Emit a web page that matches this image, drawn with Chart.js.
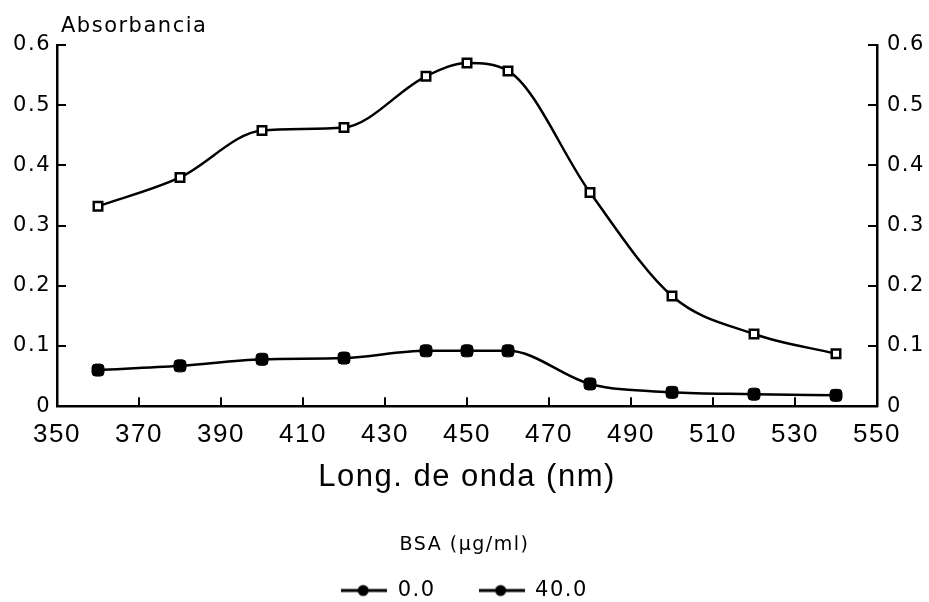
<!DOCTYPE html>
<html>
<head>
<meta charset="utf-8">
<script src="https://cdn.jsdelivr.net/npm/chart.js@4/dist/chart.umd.min.js"></script>
<style>
  html, body { margin: 0; padding: 0; background: #fff; }
  #wrap { width: 929px; height: 602px; }
</style>
</head>
<body>
<div id="wrap"><canvas id="chart"></canvas></div>
<script>
  // wavelength (nm)
  var wavelengths = [360, 380, 400, 420, 440, 450, 460, 480, 500, 520, 540];
  // absorbance, BSA 0.0 ug/ml
  var absBsa0 = [0.332, 0.380, 0.458, 0.463, 0.548, 0.570, 0.557, 0.355, 0.183, 0.120, 0.087];
  // absorbance, BSA 40.0 ug/ml
  var absBsa40 = [0.060, 0.067, 0.078, 0.080, 0.092, 0.092, 0.092, 0.037, 0.023, 0.020, 0.018];
  var seriesLabels = ['0.0', '40.0'];
  var xTicks = [350, 370, 390, 410, 430, 450, 470, 490, 510, 530, 550];
  var yTicks = [0, 0.1, 0.2, 0.3, 0.4, 0.5, 0.6];

  function toPoints(xs, ys) {
    return xs.map(function (x, i) { return { x: x, y: ys[i] }; });
  }

  // small line + dot image for the legend
  function legendMark() {
    var c = document.createElement('canvas');
    c.width = 46; c.height = 14;
    var g = c.getContext('2d');
    g.strokeStyle = '#000';
    g.lineWidth = 3;
    g.beginPath(); g.moveTo(0, 7); g.lineTo(46, 7); g.stroke();
    g.fillStyle = '#000';
    g.beginPath(); g.arc(22, 7, 5.5, 0, Math.PI * 2); g.fill();
    return c;
  }
  var mark = legendMark();

  var yFont = { family: 'DejaVu Sans', size: 21 };
  var xFont = { family: 'Liberation Sans', size: 26 };

  // the scanned figure uses a wide, spaced lettering
  var spacing = {
    id: 'spacing',
    beforeLayout: function (chart) { chart.ctx.letterSpacing = '1.5px'; },
    beforeDraw: function (chart) { chart.ctx.letterSpacing = '1.5px'; }
  };

  // inward tick marks + y axis caption
  var axisDecor = {
    id: 'axisDecor',
    afterDraw: function (chart) {
      var ctx = chart.ctx, a = chart.chartArea;
      var sx = chart.scales.x, sy = chart.scales.y;
      ctx.save();
      ctx.strokeStyle = '#000';
      ctx.lineWidth = 2;
      ctx.beginPath();
      xTicks.forEach(function (v) {
        if (v === xTicks[0] || v === xTicks[xTicks.length - 1]) return;
        var px = Math.round(sx.getPixelForValue(v));
        ctx.moveTo(px, a.bottom); ctx.lineTo(px, a.bottom - 9);
      });
      yTicks.forEach(function (v) {
        if (v === 0) return;
        var py = Math.round(sy.getPixelForValue(v));
        ctx.moveTo(a.left, py); ctx.lineTo(a.left + 9, py);
        ctx.moveTo(a.right, py); ctx.lineTo(a.right - 9, py);
      });
      ctx.stroke();
      ctx.fillStyle = '#000';
      ctx.font = '21px "DejaVu Sans"';
      ctx.textBaseline = 'alphabetic';
      ctx.fillText('Absorbancia', a.left + 4, 32);
      ctx.restore();
    }
  };

  new Chart(document.getElementById('chart'), {
    type: 'scatter',
    data: {
      datasets: [
        {
          label: seriesLabels[0],
          data: toPoints(wavelengths, absBsa0),
          showLine: true,
          borderColor: '#000',
          borderWidth: 2.5,
          cubicInterpolationMode: 'monotone',
          pointStyle: 'rect',
          pointRadius: 6,
          pointBorderWidth: 2.5,
          pointBackgroundColor: '#fff',
          pointBorderColor: '#000'
        },
        {
          label: seriesLabels[1],
          data: toPoints(wavelengths, absBsa40),
          showLine: true,
          borderColor: '#000',
          borderWidth: 2.5,
          cubicInterpolationMode: 'monotone',
          pointStyle: 'rectRounded',
          pointRadius: 7,
          pointBorderWidth: 1,
          pointBackgroundColor: '#000',
          pointBorderColor: '#000'
        }
      ]
    },
    options: {
      responsive: true,
      maintainAspectRatio: false,
      animation: false,
      layout: { padding: { top: 45, left: 0, right: 0, bottom: -9 } },
      plugins: {
        tooltip: { enabled: false },
        legend: {
          position: 'bottom',
          title: {
            display: true,
            text: 'BSA (µg/ml)',
            color: '#000',
            font: { family: 'DejaVu Sans', size: 19 },
            padding: { top: 0, bottom: -21 }
          },
          labels: {
            usePointStyle: true,
            pointStyleWidth: 46,
            boxHeight: 14,
            padding: 43,
            color: '#000',
            font: { family: 'DejaVu Sans', size: 21 },
            generateLabels: function (chart) {
              return chart.data.datasets.map(function (ds, i) {
                return {
                  text: ds.label,
                  pointStyle: mark,
                  fillStyle: '#000',
                  strokeStyle: '#000',
                  lineWidth: 0,
                  fontColor: '#000',
                  datasetIndex: i,
                  hidden: false
                };
              });
            }
          }
        }
      },
      scales: {
        x: {
          type: 'linear',
          min: 350,
          max: 550,
          afterBuildTicks: function (s) { s.ticks = xTicks.map(function (v) { return { value: v }; }); },
          afterFit: function (s) { s.height = 129; },
          grid: { display: true, drawOnChartArea: false, drawTicks: false },
          border: { display: true, color: '#000', width: 2.5 },
          ticks: { color: '#000', font: xFont, padding: 13, maxRotation: 0, autoSkip: false },
          title: {
            display: true,
            text: 'Long. de onda (nm)',
            color: '#000',
            font: { family: 'Liberation Sans', size: 31 },
            padding: { top: 0, bottom: 39 }
          }
        },
        y: {
          position: 'left',
          min: 0,
          max: 0.6,
          afterBuildTicks: function (s) { s.ticks = yTicks.map(function (v) { return { value: v }; }); },
          afterFit: function (s) { s.width = 57; },
          grid: { display: true, drawOnChartArea: false, drawTicks: false },
          border: { display: true, color: '#000', width: 2.5 },
          ticks: {
            color: '#000', font: yFont, padding: 6,
            callback: function (v) { return v === 0 ? '0' : v.toFixed(1); }
          }
        },
        y2: {
          position: 'right',
          min: 0,
          max: 0.6,
          afterBuildTicks: function (s) { s.ticks = yTicks.map(function (v) { return { value: v }; }); },
          afterFit: function (s) { s.width = 52; },
          grid: { display: true, drawOnChartArea: false, drawTicks: false },
          border: { display: true, color: '#000', width: 2.5 },
          ticks: {
            color: '#000', font: yFont, padding: 10,
            callback: function (v) { return v === 0 ? '0' : v.toFixed(1); }
          }
        }
      }
    },
    plugins: [spacing, axisDecor]
  });
</script>
</body>
</html>
